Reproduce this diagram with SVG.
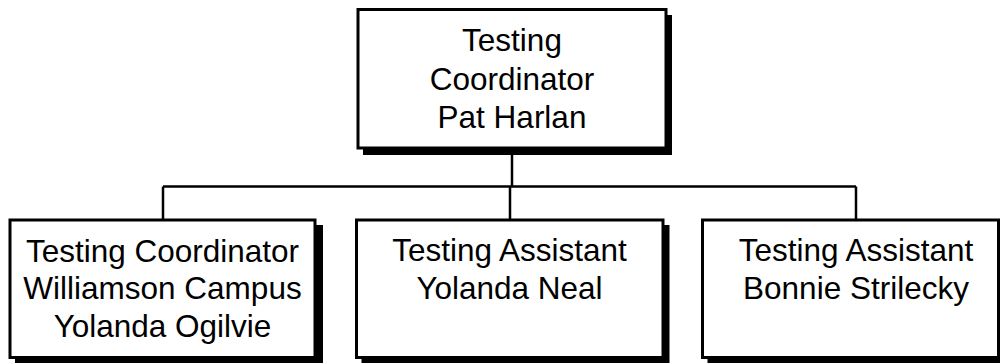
<svg xmlns="http://www.w3.org/2000/svg" width="1000" height="363" viewBox="0 0 1000 363">
<style>
.box{fill:#fff;stroke:#000;stroke-width:3}
.sh{fill:#000}
.t{font-family:"Liberation Sans",Arial,sans-serif;font-size:31.5px;fill:#000;text-anchor:middle}
.c{stroke:#000;stroke-width:2.5;fill:none}
</style>
<rect width="1000" height="363" fill="#fff"/>
<g id="connectors">
<path class="c" d="M512,155 V186.5 M163,186.5 H856 M163,186.5 V220 M510,186.5 V220 M856,186.5 V220"/>
</g>
<g id="n0">
<rect class="sh" x="363" y="15" width="309" height="140"/>
<rect class="box" x="358" y="9.5" width="308" height="138.5"/>
<text class="t" x="512" y="51">Testing</text>
<text class="t" x="512" y="89.5">Coordinator</text>
<text class="t" x="512" y="128">Pat Harlan</text>
</g>
<g id="n1">
<rect class="sh" x="15" y="225" width="308" height="138"/>
<rect class="box" x="10" y="220" width="305" height="137.5"/>
<text class="t" x="162.5" y="261.5">Testing Coordinator</text>
<text class="t" x="162.5" y="299">Williamson Campus</text>
<text class="t" x="162.5" y="336.5">Yolanda Ogilvie</text>
</g>
<g id="n2">
<rect class="sh" x="361.5" y="225" width="308" height="138"/>
<rect class="box" x="356.5" y="220" width="306.5" height="137.5"/>
<text class="t" x="509.5" y="261">Testing Assistant</text>
<text class="t" x="509.5" y="298.5">Yolanda Neal</text>
</g>
<g id="n3">
<rect class="sh" x="707.5" y="225" width="300" height="138"/>
<rect class="box" x="702.5" y="220" width="296" height="137.5"/>
<text class="t" x="856" y="261">Testing Assistant</text>
<text class="t" x="856" y="298.5">Bonnie Strilecky</text>
</g>
</svg>
